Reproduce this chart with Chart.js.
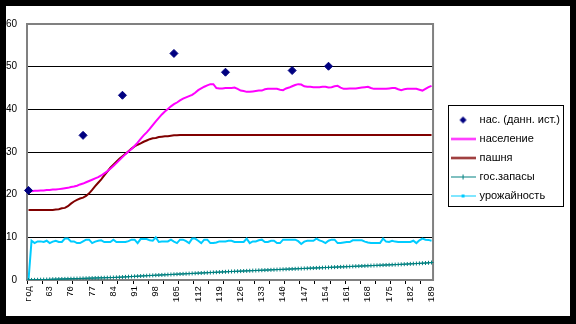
<!DOCTYPE html>
<html>
<head>
<meta charset="utf-8">
<script src="https://cdn.jsdelivr.net/npm/chart.js@4"></script>
<style>
  html, body { margin: 0; background: #000; }
  #frame { position: absolute; left: 6px; top: 6px; width: 564px; height: 310px; background: #fff; }
</style>
</head>
<body>
<div id="frame"><canvas id="chart" width="564" height="310"></canvas></div>
<script>
// years along the category axis (first slot is the column header)
const YEARS = ["год",
  "57", "58", "59", "60", "61", "62", "63", "64", "65", "66", "67", "68", "69", "70",
  "71", "72", "73", "74", "75", "76", "77", "78", "79", "80", "81", "82", "83", "84",
  "85", "86", "87", "88", "89", "90", "91", "92", "93", "94", "95", "96", "97", "98",
  "99", "100", "101", "102", "103", "104", "105", "106", "107", "108", "109", "110", "111", "112",
  "113", "114", "115", "116", "117", "118", "119", "120", "121", "122", "123", "124", "125", "126",
  "127", "128", "129", "130", "131", "132", "133", "134", "135", "136", "137", "138", "139", "140",
  "141", "142", "143", "144", "145", "146", "147", "148", "149", "150", "151", "152", "153", "154",
  "155", "156", "157", "158", "159", "160", "161", "162", "163", "164", "165", "166", "167", "168",
  "169", "170", "171", "172", "173", "174", "175", "176", "177", "178", "179", "180", "181", "182",
  "183", "184", "185", "186", "187", "188", "189"];

// population from historical sources (sparse points)
const HIST_YEARS = ["год", "74", "87", "104", "121", "143", "155"];
const HIST_POP = [21.0, 33.9, 43.3, 53.1, 48.7, 49.1, 50.1];

const POPULATION = [
  20.7, 20.8, 20.9, 20.9, 21.0, 21.0, 21.1, 21.1, 21.2, 21.2,
  21.3, 21.4, 21.5, 21.6, 21.8, 21.9, 22.1, 22.4, 22.6, 22.9,
  23.2, 23.5, 23.8, 24.1, 24.5, 25.0, 25.5, 26.1, 26.7, 27.4,
  28.1, 28.8, 29.5, 30.1, 30.7, 31.4, 32.2, 33.1, 33.9, 34.6,
  35.4, 36.3, 37.2, 38.0, 38.8, 39.5, 40.1, 40.7, 41.2, 41.6,
  42.1, 42.5, 42.8, 43.1, 43.4, 43.9, 44.5, 44.9, 45.3, 45.6,
  45.9, 45.9, 45.0, 44.9, 44.9, 45.0, 45.0, 45.0, 45.1, 44.8,
  44.4, 44.3, 44.1, 44.1, 44.2, 44.3, 44.4, 44.4, 44.7, 44.8,
  44.8, 44.8, 44.8, 44.6, 44.5, 44.9, 45.1, 45.4, 45.7, 45.9,
  45.8, 45.4, 45.3, 45.3, 45.2, 45.2, 45.2, 45.3, 45.3, 45.1,
  45.2, 45.4, 45.5, 45.1, 44.8, 44.8, 44.9, 44.9, 44.9, 45.0,
  45.1, 45.2, 45.3, 45.0, 44.8, 44.8, 44.8, 44.8, 44.8, 44.9,
  45.0, 45.0, 44.7, 44.5, 44.7, 44.8, 44.8, 44.8, 44.8, 44.6,
  44.4, 44.8, 45.2, 45.5];

const ARABLE = [
  16.4, 16.4, 16.4, 16.4, 16.4, 16.4, 16.4, 16.4, 16.4, 16.5,
  16.6, 16.8, 16.9, 17.3, 17.9, 18.4, 18.8, 19.1, 19.3, 19.7,
  20.3, 21.1, 22.0, 22.8, 23.6, 24.5, 25.4, 26.3, 27.0, 27.7,
  28.4, 29.0, 29.6, 30.2, 30.8, 31.3, 31.7, 32.0, 32.4, 32.7,
  33.0, 33.2, 33.3, 33.5, 33.6, 33.7, 33.7, 33.8, 33.9, 33.9,
  34.0, 34.0, 34.0, 34.0, 34.0, 34.0, 34.0, 34.0, 34.0, 34.0,
  34.0, 34.0, 34.0, 34.0, 34.0, 34.0, 34.0, 34.0, 34.0, 34.0,
  34.0, 34.0, 34.0, 34.0, 34.0, 34.0, 34.0, 34.0, 34.0, 34.0,
  34.0, 34.0, 34.0, 34.0, 34.0, 34.0, 34.0, 34.0, 34.0, 34.0,
  34.0, 34.0, 34.0, 34.0, 34.0, 34.0, 34.0, 34.0, 34.0, 34.0,
  34.0, 34.0, 34.0, 34.0, 34.0, 34.0, 34.0, 34.0, 34.0, 34.0,
  34.0, 34.0, 34.0, 34.0, 34.0, 34.0, 34.0, 34.0, 34.0, 34.0,
  34.0, 34.0, 34.0, 34.0, 34.0, 34.0, 34.0, 34.0, 34.0, 34.0,
  34.0, 34.0, 34.0, 34.0];

const RESERVES = [
  0.00, 0.02, 0.04, 0.06, 0.08, 0.10, 0.12, 0.15, 0.18, 0.20,
  0.22, 0.24, 0.26, 0.28, 0.30, 0.32, 0.34, 0.36, 0.38, 0.40,
  0.43, 0.45, 0.47, 0.49, 0.51, 0.53, 0.55, 0.57, 0.59, 0.62,
  0.65, 0.69, 0.73, 0.77, 0.81, 0.85, 0.89, 0.93, 0.97, 1.01,
  1.05, 1.08, 1.12, 1.15, 1.19, 1.22, 1.26, 1.29, 1.33, 1.36,
  1.40, 1.43, 1.47, 1.50, 1.54, 1.57, 1.61, 1.64, 1.68, 1.71,
  1.75, 1.78, 1.82, 1.85, 1.89, 1.92, 1.96, 1.99, 2.02, 2.05,
  2.08, 2.11, 2.14, 2.17, 2.20, 2.23, 2.26, 2.29, 2.32, 2.35,
  2.38, 2.41, 2.44, 2.47, 2.50, 2.53, 2.56, 2.59, 2.62, 2.65,
  2.68, 2.71, 2.74, 2.77, 2.80, 2.83, 2.86, 2.89, 2.92, 2.95,
  2.98, 3.01, 3.04, 3.07, 3.10, 3.13, 3.16, 3.19, 3.22, 3.25,
  3.28, 3.31, 3.34, 3.37, 3.40, 3.43, 3.46, 3.49, 3.52, 3.55,
  3.58, 3.61, 3.64, 3.67, 3.70, 3.74, 3.78, 3.82, 3.86, 3.90,
  3.94, 3.98, 4.03, 4.10];

const HARVEST = [
  0, 9.2, 8.65, 9.05, 9.05, 8.9, 9.2, 8.65, 9.0, 9.2,
  8.9, 8.9, 9.7, 9.7, 9.05, 9.05, 8.65, 8.65, 9.05, 9.45,
  9.45, 8.65, 9.0, 9.2, 9.3, 8.9, 8.9, 8.9, 9.45, 8.9,
  8.9, 8.9, 8.9, 9.1, 9.45, 9.45, 8.65, 9.6, 9.6, 9.6,
  9.3, 9.2, 10.0, 8.9, 9.0, 9.05, 9.05, 9.45, 9.0, 8.65,
  9.45, 9.45, 9.1, 8.65, 9.7, 9.7, 9.2, 8.65, 9.45, 9.45,
  8.65, 8.65, 8.8, 9.05, 9.05, 9.05, 9.2, 9.2, 8.9, 8.9,
  8.9, 8.9, 9.7, 8.65, 9.05, 9.05, 9.3, 9.45, 8.9, 8.9,
  9.2, 9.2, 8.65, 8.65, 9.45, 9.45, 9.45, 9.45, 9.45, 9.1,
  8.45, 9.0, 9.2, 9.2, 9.2, 9.7, 9.3, 9.05, 8.65, 9.2,
  9.45, 9.45, 8.65, 8.65, 8.8, 8.9, 8.9, 9.3, 9.3, 9.3,
  9.3, 9.0, 8.8, 8.65, 8.65, 8.65, 8.65, 9.7, 9.0, 8.9,
  9.2, 9.0, 8.9, 8.9, 8.9, 8.9, 8.9, 9.2, 8.65, 9.3,
  9.7, 9.45, 9.4, 9.2];

// small legend glyphs: a 25px line with an optional marker in the middle
function glyph(color, lineWidth, marker) {
  const c = document.createElement("canvas");
  c.width = 25;
  c.height = 9;
  const g = c.getContext("2d");
  g.strokeStyle = color;
  g.fillStyle = color;
  if (lineWidth) {
    g.lineWidth = lineWidth;
    g.beginPath();
    g.moveTo(0, 4.5);
    g.lineTo(25, 4.5);
    g.stroke();
  }
  if (marker === "diamond") {
    g.beginPath();
    g.moveTo(12.5, 1);
    g.lineTo(16, 4.5);
    g.lineTo(12.5, 8);
    g.lineTo(9, 4.5);
    g.closePath();
    g.fill();
  } else if (marker === "cross") {
    g.lineWidth = 1;
    g.beginPath();
    g.moveTo(12.5, 2);
    g.lineTo(12.5, 7);
    g.stroke();
  } else if (marker === "square") {
    g.fillRect(11, 3, 3, 3);
  }
  return c;
}

const LEGEND_GLYPHS = [
  glyph("#000080", 0, "diamond"),
  glyph("#ff00ff", 2),
  glyph("#800000", 2),
  glyph("#008080", 1, "cross"),
  glyph("#00ccff", 1, "square"),
];

// gray frame round the plot area, black box round the legend
const frames = {
  id: "frames",
  beforeDatasetsDraw(chart) {
    const { ctx, chartArea: a } = chart;
    ctx.save();
    ctx.strokeStyle = "#808080";
    ctx.lineWidth = 2;
    ctx.strokeRect(a.left, a.top, a.right - a.left, a.bottom - a.top);
    ctx.restore();
  },
  afterDraw(chart) {
    const boxes = chart.legend.legendHitBoxes;
    if (!boxes || !boxes.length) return;
    const left = Math.min(...boxes.map((b) => b.left)) - 4;
    const right = Math.max(...boxes.map((b) => b.left + b.width)) + 3;
    const top = boxes[0].top - 10;
    const last = boxes[boxes.length - 1];
    const bottom = last.top + last.height + 4;
    const ctx = chart.ctx;
    ctx.save();
    ctx.strokeStyle = "#000";
    ctx.lineWidth = 1;
    ctx.strokeRect(Math.round(left) + 0.5, Math.round(top) + 0.5,
      Math.round(right - left), Math.round(bottom - top));
    ctx.restore();
  },
};

new Chart(document.getElementById("chart"), {
  type: "line",
  data: {
    labels: YEARS,
    datasets: [
      {
        label: "нас. (данн. ист.)",
        data: HIST_YEARS.map((y, i) => ({ x: y, y: HIST_POP[i] })),
        showLine: false,
        pointStyle: "rectRot",
        pointRadius: 4,
        borderColor: "#000080",
        backgroundColor: "#000080",
        borderWidth: 1,
      },
      {
        label: "население",
        data: POPULATION,
        borderColor: "#ff00ff",
        backgroundColor: "#ff00ff",
        borderWidth: 2,
        pointRadius: 0,
      },
      {
        label: "пашня",
        data: ARABLE,
        borderColor: "#800000",
        backgroundColor: "#800000",
        borderWidth: 2,
        pointRadius: 0,
      },
      {
        label: "гос.запасы",
        data: RESERVES,
        borderColor: "#008080",
        backgroundColor: "#008080",
        borderWidth: 1,
        pointStyle: "cross",
        pointRadius: 2,
        pointBorderWidth: 1,
      },
      {
        label: "урожайность",
        data: HARVEST,
        borderColor: "#00ccff",
        backgroundColor: "#00ccff",
        borderWidth: 2,
        pointRadius: 0,
      },
    ],
  },
  options: {
    responsive: false,
    animation: false,
    devicePixelRatio: 1,
    layout: { padding: { left: 0, top: 18, right: 0, bottom: 0 } },
    plugins: {
      tooltip: { enabled: false },
      legend: {
        position: "right",
        fullSize: false,
        maxWidth: 140,
        title: { display: true, text: "", padding: 0, font: { size: 10 } },
        labels: {
          usePointStyle: true,
          pointStyleWidth: 22,
          boxHeight: 5,
          padding: 8,
          color: "#000",
          font: { family: "Liberation Sans", size: 11 },
          generateLabels: (chart) =>
            Chart.defaults.plugins.legend.labels.generateLabels(chart).map((item, i) =>
              Object.assign(item, { pointStyle: LEGEND_GLYPHS[i] })
            ),
        },
      },
    },
    scales: {
      x: {
        weight: 1,
        offset: true,
        grid: { display: false, drawTicks: false },
        border: { display: false },
        ticks: {
          autoSkip: false,
          minRotation: 90,
          maxRotation: 90,
          padding: 2,
          color: "#000",
          font: { family: "Liberation Mono", size: 9 },
          callback: function (value, index) {
            return index % 7 === 0 ? this.getLabelForValue(value) : null;
          },
        },
        afterFit: (s) => { s.height = 32; },
      },
      xTicks: {
        type: "category",
        position: "bottom",
        weight: 0,
        offset: true,
        border: { display: false },
        ticks: { display: false, autoSkip: false },
        grid: {
          offset: true,
          drawOnChartArea: false,
          drawTicks: true,
          tickLength: 4,
          lineWidth: 1,
          color: (ctx) => (ctx.index % 5 === 0 ? "#000" : "rgba(0,0,0,0)"),
        },
        afterFit: (s) => { s.height = 4; },
      },
      y: {
        min: 0,
        max: 60,
        border: { display: false },
        grid: {
          drawTicks: false,
          lineWidth: 1,
          color: (ctx) =>
            ctx.tick && ctx.tick.value > 0 && ctx.tick.value < 60 ? "#000" : "rgba(0,0,0,0)",
        },
        ticks: {
          stepSize: 10,
          padding: 10,
          color: "#000",
          font: { family: "Liberation Sans", size: 10 },
        },
        afterFit: (s) => { s.width = 21; },
      },
      gap: {
        type: "linear",
        position: "right",
        border: { display: false },
        grid: { display: false },
        ticks: { display: false },
        afterFit: (s) => { s.width = 11; },
      },
    },
  },
  plugins: [frames],
});
</script>
</body>
</html>
